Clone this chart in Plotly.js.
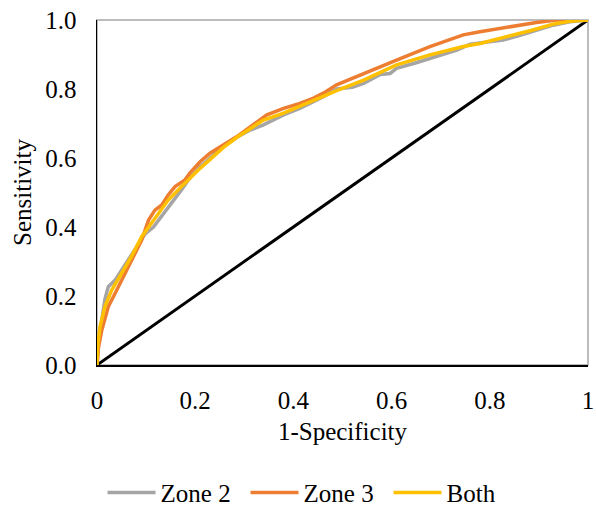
<!DOCTYPE html>
<html>
<head>
<meta charset="utf-8">
<script src="https://cdn.plot.ly/plotly-3.0.1.min.js"></script>
<style>html,body{margin:0;padding:0;background:#fff;}#chart{width:596px;height:507px;}</style>
</head>
<body>
<div id="chart"></div>
<script>
const zone2X = [0, 0.003, 0.0096, 0.016, 0.023, 0.037, 0.05, 0.07, 0.084, 0.098, 0.115, 0.13, 0.152, 0.172, 0.186, 0.21, 0.257, 0.285, 0.312, 0.339, 0.38, 0.413, 0.461, 0.488, 0.52, 0.543, 0.577, 0.597, 0.61, 0.65, 0.678, 0.733, 0.76, 0.8, 0.827, 0.86, 0.882, 0.929, 0.963, 1];
const zone2Y = [0, 0.06, 0.13, 0.19, 0.227, 0.246, 0.275, 0.319, 0.353, 0.38, 0.40, 0.43, 0.47, 0.507, 0.536, 0.575, 0.633, 0.66, 0.681, 0.696, 0.725, 0.744, 0.778, 0.80, 0.805, 0.816, 0.842, 0.845, 0.86, 0.876, 0.889, 0.913, 0.93, 0.936, 0.942, 0.955, 0.965, 0.985, 0.995, 1];

const zone3X = [0, 0.003, 0.0096, 0.023, 0.037, 0.05, 0.064, 0.077, 0.091, 0.105, 0.118, 0.132, 0.145, 0.159, 0.179, 0.189, 0.21, 0.23, 0.257, 0.285, 0.312, 0.346, 0.38, 0.413, 0.44, 0.461, 0.488, 0.543, 0.61, 0.678, 0.746, 0.78, 0.827, 0.895, 0.936, 1];
const zone3Y = [0, 0.05, 0.10, 0.169, 0.208, 0.246, 0.285, 0.324, 0.362, 0.42, 0.449, 0.464, 0.493, 0.517, 0.536, 0.556, 0.589, 0.614, 0.638, 0.662, 0.69, 0.725, 0.744, 0.758, 0.773, 0.788, 0.812, 0.845, 0.884, 0.923, 0.957, 0.966, 0.978, 0.993, 1.0, 1.0];

const bothX = [0, 0.002, 0.006, 0.016, 0.03, 0.05, 0.07, 0.091, 0.105, 0.125, 0.145, 0.172, 0.186, 0.21, 0.257, 0.285, 0.312, 0.339, 0.38, 0.413, 0.461, 0.488, 0.543, 0.61, 0.678, 0.746, 0.78, 0.827, 0.882, 0.929, 0.963, 1];
const bothY = [0, 0.06, 0.11, 0.169, 0.217, 0.266, 0.314, 0.372, 0.40, 0.44, 0.478, 0.517, 0.536, 0.57, 0.63, 0.66, 0.685, 0.71, 0.73, 0.75, 0.78, 0.795, 0.826, 0.87, 0.899, 0.923, 0.932, 0.948, 0.969, 0.988, 0.996, 1];

const refX = [0, 1];
const refY = [0, 1];

const seriesNames = ["Zone 2", "Zone 3", "Both"];
const seriesColors = ["#A5A5A5", "#ED7D31", "#FFC000"];

const font = {family: "Liberation Serif, Times New Roman, serif", size: 25, color: "#000"};

const traces = [
  {x: refX, y: refY, mode: "lines", line: {color: "#000", width: 3}, showlegend: false, hoverinfo: "skip"},
  {x: zone2X, y: zone2Y, mode: "lines", name: seriesNames[0], line: {color: seriesColors[0], width: 3.5}},
  {x: zone3X, y: zone3Y, mode: "lines", name: seriesNames[1], line: {color: seriesColors[1], width: 3.5}},
  {x: bothX, y: bothY, mode: "lines", name: seriesNames[2], line: {color: seriesColors[2], width: 3.5}}
];

const layout = {
  width: 596, height: 507,
  margin: {l: 97, r: 8, t: 20, b: 142},
  paper_bgcolor: "#fff", plot_bgcolor: "#fff",
  font: font,
  showlegend: true,
  legend: {orientation: "h", xref: "container", yref: "container", x: 0.172, xanchor: "left", y: 0.028, yanchor: "middle",
           font: font, itemwidth: 48, entrywidth: 80, entrywidthmode: "pixels", traceorder: "normal"},
  xaxis: {range: [0, 1], showgrid: false, zeroline: false, showline: true, linecolor: "#000", linewidth: 1.5,
          tickvals: [0, 0.2, 0.4, 0.6, 0.8, 1], ticktext: ["0", "0.2", "0.4", "0.6", "0.8", "1"],
          ticks: "", ticklabelstandoff: 12, tickfont: font,
          title: {text: "1-Specificity", font: font, standoff: 10}},
  yaxis: {range: [0, 1], showgrid: false, zeroline: false, showline: true, linecolor: "#000", linewidth: 1.5,
          tickvals: [0, 0.2, 0.4, 0.6, 0.8, 1], tickformat: ".1f",
          ticks: "", ticklabelstandoff: 14, tickfont: font,
          title: {text: "Sensitivity", font: font, standoff: 6}},
  shapes: [
    {type: "rect", xref: "paper", yref: "paper", x0: 0, x1: 1, y0: 0, y1: 1, line: {color: "#A6A6A6", width: 1.5}, layer: "below"}
  ]
};

Plotly.newPlot("chart", traces, layout, {displayModeBar: false, staticPlot: true});
</script>
</body>
</html>
